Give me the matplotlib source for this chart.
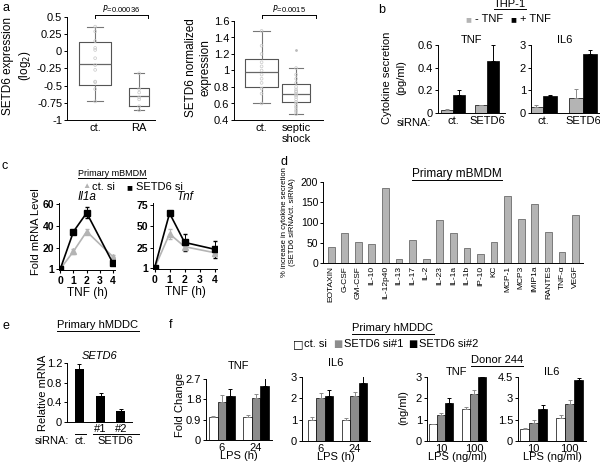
import numpy as np
import matplotlib.pyplot as plt
from matplotlib.lines import Line2D

plt.rcParams['font.family'] = ['Liberation Sans', 'DejaVu Sans']
plt.rcParams['font.size'] = 8
plt.rcParams['axes.linewidth'] = 0.7
plt.rcParams['xtick.major.size'] = 0
plt.rcParams['ytick.major.size'] = 2
plt.rcParams['ytick.major.width'] = 0.7
plt.rcParams['xtick.major.pad'] = 2
plt.rcParams['ytick.major.pad'] = 1.5

W, H = 600, 465
GREY = '#b4b4b4'
MID = '#8a8a8a'

# ---------------- data ----------------
# a (left): RA
ra_groups = ['ct.', 'RA']
ra_whislo = [-0.73, -0.86]
ra_q1 = [-0.49, -0.80]
ra_med = [-0.18, -0.65]
ra_q3 = [0.13, -0.54]
ra_whishi = [0.36, -0.32]
ra_pts_ct = [0.36, 0.29, 0.15, 0.05, 0.02, -0.10, -0.20, -0.27, -0.44, -0.45, -0.55, -0.73]
ra_pts_ra = [-0.32, -0.55, -0.60, -0.67, -0.70, -0.80, -0.86]

# a (right): septic shock
ss_groups = ['ct.', 'septic\nshock']
ss_whislo = [0.60, 0.47]
ss_q1 = [0.80, 0.62]
ss_med = [0.98, 0.72]
ss_q3 = [1.14, 0.84]
ss_whishi = [1.48, 1.03]
ss_outliers = [[], [1.25]]
ss_pts_ct = [1.48, 1.30, 1.20, 1.10, 1.05, 1.00, 0.95, 0.90, 0.85, 0.78, 0.72, 0.60]
ss_pts_ss = [1.03, 0.95, 0.90, 0.85, 0.80, 0.77, 0.75, 0.74, 0.72, 0.70, 0.68, 0.65,
             0.62, 0.60, 0.57, 0.55, 0.52, 0.50, 0.47]

# b: THP-1 cytokine secretion
b_groups = ['ct.', 'SETD6']
tnf_minus = [0.025, 0.07]
tnf_minus_err = [0.006, 0.0]
tnf_plus = [0.16, 0.46]
tnf_plus_err = [0.04, 0.14]
il6_minus = [0.25, 0.68]
il6_minus_err = [0.10, 0.38]
il6_plus = [0.75, 2.60]
il6_plus_err = [0.04, 0.20]

# c: Primary mBMDM time course
c_time = [0, 1, 2, 4]
il1a_ct = [1, 17, 35, 12]
il1a_ct_err = [0, 2, 2, 2]
il1a_setd6 = [1, 35, 52, 6]
il1a_setd6_err = [0, 1, 5, 1]
tnf_ct = [1, 41, 26, 19]
tnf_ct_err = [0, 6, 4, 4]
tnf_setd6 = [1, 65, 31, 23]
tnf_setd6_err = [0, 1, 10, 10]

# d: cytokine array
d_labels = ['EOTAXIN', 'G-CSF', 'GM-CSF', 'IL-10', 'IL-12p40', 'IL-13', 'IL-17', 'IL-2',
            'IL-23', 'IL-1a', 'IL-1b', 'IP-10', 'KC', 'MCP-1', 'MCP3', 'IMIP1a',
            'RANTES', 'TNF-α', 'VEGF']
d_values = [40, 73, 53, 46, 186, 11, 58, 11, 106, 73, 36, 23, 52, 165, 109, 145, 77, 28, 118]

# e: SETD6 knockdown
e_values = [1.07, 0.53, 0.23]
e_err = [0.10, 0.07, 0.03]

# f: hMDDC
f_hours = ['6', '24']
f_doses = ['10', '100']
f_tnf_h = [[1.0, 1.0], [1.7, 1.86], [1.95, 2.39]]
f_tnf_h_err = [[0.08, 0.1], [0.3, 0.17], [0.3, 0.35]]
f_il6_h = [[1.0, 1.0], [2.0, 2.1], [2.1, 2.7]]
f_il6_h_err = [[0.12, 0.1], [0.25, 0.2], [0.3, 0.35]]
f_tnf_d = [[0.8, 1.5], [1.2, 2.2], [1.8, 3.0]]
f_tnf_d_err = [[0.0, 0.08], [0.1, 0.2], [0.2, 0.0]]
f_il6_d = [[0.85, 1.65], [1.25, 2.6], [2.25, 4.3]]
f_il6_d_err = [[0.05, 0.15], [0.2, 0.3], [0.25, 0.15]]
f_colors = ['white', '#8c8c8c', 'black']
f_names = ['ct. si', 'SETD6 si#1', 'SETD6 si#2']

# ---------------- helpers ----------------
fig = plt.figure(figsize=(6, 4.65), dpi=100)
renderer = fig.canvas.get_renderer()


def ax_px(x0, y0, x1, y1):
    ax = fig.add_axes([x0 / W, 1 - y1 / H, (x1 - x0) / W, (y1 - y0) / H])
    ax.spines[['top', 'right']].set_visible(False)
    return ax


def ftext(x, y, s, **kw):
    kw.setdefault('ha', 'center')
    kw.setdefault('va', 'center')
    return fig.text(x / W, 1 - y / H, s, **kw)


def fline(x0, x1, y0, y1=None, lw=0.7):
    if y1 is None:
        y1 = y0
    fig.add_artist(Line2D([x0 / W, x1 / W], [1 - y0 / H, 1 - y1 / H],
                          color='black', lw=lw, transform=fig.transFigure))


def underlined(x, y, s, size=8.5, gap=6):
    t = ftext(x, y, s, fontsize=size)
    half = t.get_window_extent(renderer).width / 2
    fline(x - half, x + half, y + gap)


def box_panel(ax, whislo, q1, med, q3, whishi, widths, pts, fliers):
    stats = []
    for i in range(len(med)):
        stats.append(dict(med=med[i], q1=q1[i], q3=q3[i], whislo=whislo[i],
                          whishi=whishi[i], fliers=fliers[i]))
    ax.bxp(stats, positions=[1, 2], widths=widths, showfliers=True,
           boxprops=dict(color='#555555', lw=0.8),
           medianprops=dict(color='#666666', lw=0.9),
           whiskerprops=dict(color='#777777', lw=0.8),
           capprops=dict(color='#777777', lw=0.8),
           flierprops=dict(marker='.', markersize=2, markerfacecolor='#bbbbbb',
                           markeredgecolor='#bbbbbb'))
    for i, p in enumerate(pts):
        ax.scatter(np.full(len(p), i + 1), p, s=4, facecolor='none',
                   edgecolor='#c8c8c8', lw=0.5, zorder=3)


def grouped_bars(ax, vals, errs, colors, width):
    n = len(vals)
    x = np.arange(len(vals[0]))
    for k in range(n):
        off = (k - (n - 1) / 2) * width
        ax.bar(x + off, vals[k], width, color=colors[k], edgecolor='black', lw=0.5,
               yerr=(np.zeros(len(errs[k])), errs[k]),
               error_kw=dict(ecolor=MID if colors[k] != 'black' else 'black',
                             elinewidth=0.7, capsize=1.5, capthick=0.7))
    return x


# ---------------- panel a ----------------
ftext(6, 8, 'a', fontsize=9)
ax = ax_px(67, 17, 155, 120)
box_panel(ax, ra_whislo, ra_q1, ra_med, ra_q3, ra_whishi, [0.72, 0.45],
          [ra_pts_ct, ra_pts_ra], [[], []])
ax.set_xlim(0.36, 2.36)
ax.set_ylim(-1, 0.5)
ax.set_yticks([-1, -0.75, -0.5, -0.25, 0, 0.25, 0.5])
ax.set_yticklabels(['-1', '-0.75', '-0.5', '-0.25', '0', '0.25', '0.5'], fontsize=8)
ax.set_xticks([1, 2])
ax.set_xticklabels(ra_groups, fontsize=8)
ftext(8, 66, 'SETD6 expression', rotation=90, fontsize=8.5)
ftext(25, 66, '(log$_2$)', rotation=90, fontsize=8.5)
fline(95, 148, 15)
fline(95, 95, 15, 18)
fline(148, 148, 15, 18)
ftext(121, 9, '$P$=0.00036', fontsize=5.5)

ax = ax_px(234, 21, 323, 120)
box_panel(ax, ss_whislo, ss_q1, ss_med, ss_q3, ss_whishi, [0.95, 0.8],
          [ss_pts_ct, ss_pts_ss], ss_outliers)
ax.set_xlim(0.2, 2.78)
ax.set_ylim(0.4, 1.6)
ax.set_yticks([0.4, 0.6, 0.8, 1.0, 1.2, 1.4, 1.6])
ax.set_yticklabels(['0.4', '0.6', '0.8', '1', '1.2', '1.4', '1.6'], fontsize=8)
ax.set_xticks([1, 2])
ax.set_xticklabels(ss_groups, fontsize=8)
ftext(191, 68, 'SETD6 normalized', rotation=90, fontsize=8.5)
ftext(206, 68, 'expression', rotation=90, fontsize=8.5)
fline(262, 316, 15)
fline(262, 262, 15, 18)
fline(316, 316, 15, 18)
ftext(289, 9, '$P$=0.0015', fontsize=5.5)

# ---------------- panel b ----------------
ftext(382, 10, 'b', fontsize=9)
underlined(510, 4, 'THP-1', size=8, gap=5)
ftext(468, 19, '■', color=GREY, fontsize=7)
ftext(475, 19, '- TNF', ha='left', fontsize=8)
ftext(513, 19, '■', color='black', fontsize=7)
ftext(520, 19, '+ TNF', ha='left', fontsize=8)

ax = ax_px(438, 45, 505, 113)
grouped_bars(ax, [tnf_minus, tnf_plus], [tnf_minus_err, tnf_plus_err], [GREY, 'black'], 0.35)
ax.set_xlim(-0.44, 1.53)
ax.set_ylim(0, 0.6)
ax.set_yticks([0, 0.2, 0.4, 0.6])
ax.set_yticklabels(['0', '0.2', '0.4', '0.6'], fontsize=8)
ax.set_xticks([0, 1])
ax.set_xticklabels(b_groups, fontsize=8)
ax.set_title('TNF', fontsize=8, pad=1)
ftext(387, 78, 'Cytokine secretion', rotation=90, fontsize=8)
ftext(401, 78, '(pg/ml)', rotation=90, fontsize=8)
ftext(414, 123, 'siRNA:', fontsize=8)

ax = ax_px(531, 45, 599, 113)
grouped_bars(ax, [il6_minus, il6_plus], [il6_minus_err, il6_plus_err], [GREY, 'black'], 0.35)
ax.set_xlim(-0.3, 1.4)
ax.set_ylim(0, 3)
ax.set_yticks([0, 1, 2, 3])
ax.set_yticklabels(['0', '1', '2', '3'], fontsize=8)
ax.set_xticks([0, 1])
ax.set_xticklabels(b_groups, fontsize=8)
ax.set_title('IL6', fontsize=8, pad=1)

# ---------------- panel c ----------------
ftext(5, 166, 'c', fontsize=9)
underlined(112, 173, 'Primary mBMDM', size=6.5, gap=5)
ftext(86, 187, '▲', color=GREY, fontsize=6)
ftext(92, 187, 'ct. si', ha='left', fontsize=8)
ftext(129, 187, '■', color='black', fontsize=7)
ftext(136, 187, 'SETD6 si', ha='left', fontsize=8)


def time_panel(ax, ct, ct_err, si, si_err):
    ax.errorbar(c_time, ct, yerr=ct_err, color=GREY, marker='^', markersize=4,
                lw=1.2, capsize=1.5, elinewidth=0.7)
    ax.errorbar(c_time, si, yerr=si_err, color='black', marker='s', markersize=4,
                lw=1.2, capsize=1.5, elinewidth=0.7)
    ax.set_xlim(-0.1, 4.15)
    ax.set_xticks([0, 1, 2, 3, 4])
    ax.set_xticklabels(['0', '1', '2', '3', '4'], fontsize=7.5, fontweight='bold')
    ax.tick_params(axis='x', length=2)
    ax.set_xlabel('TNF (h)', fontsize=8.5, labelpad=1)


ax = ax_px(59, 203, 115, 270)
time_panel(ax, il1a_ct, il1a_ct_err, il1a_setd6, il1a_setd6_err)
ax.set_ylim(0, 61)
ax.set_yticks([1, 20, 40, 60])
ax.set_yticklabels(['1', '20', '40', '60'], fontsize=7.5, fontweight='bold')
ax.set_title('Il1a', fontsize=8.5, style='italic', pad=0)
ftext(36, 232, 'Fold mRNA Level', rotation=90, fontsize=8)

ax = ax_px(153, 203, 217, 269)
time_panel(ax, tnf_ct, tnf_ct_err, tnf_setd6, tnf_setd6_err)
ax.set_ylim(0, 77)
ax.set_yticks([1, 25, 50, 75])
ax.set_yticklabels(['1', '25', '50', '75'], fontsize=7.5, fontweight='bold')
ax.set_title('Tnf', fontsize=8.5, style='italic', pad=0)

# ---------------- panel d ----------------
ftext(284, 162, 'd', fontsize=9)
underlined(457, 174, 'Primary mBMDM', size=8.5, gap=6)
ax = ax_px(323, 182, 583, 263)
xd = np.arange(len(d_values))
ax.bar(xd, d_values, 0.5, color=GREY, edgecolor='#555555', lw=0.5)
ax.set_xlim(-0.6, 18.55)
ax.set_ylim(0, 200)
ax.set_yticks([0, 50, 100, 150, 200])
ax.set_yticklabels(['0', '50', '100', '150', '200'], fontsize=7.5)
ax.set_xticks(xd)
ax.set_xticklabels(d_labels, rotation=90, fontsize=6)
ftext(284, 222, '% increase in cytokine secretion', rotation=90, fontsize=5.5)
ftext(293, 222, '(SETD6 siRNA/ct. siRNA)', rotation=90, fontsize=5.5)

# ---------------- panel e ----------------
ftext(6, 326, 'e', fontsize=9)
underlined(98, 325, 'Primary hMDDC', size=8, gap=6)
ax = ax_px(67, 363, 132, 422)
xe = np.array([0, 1.05, 2.05])
ax.bar(xe, e_values, 0.45, color='black',
       yerr=(np.zeros(3), e_err), error_kw=dict(ecolor='black', elinewidth=0.7,
                                                 capsize=1.5, capthick=0.7))
ax.set_xlim(-0.6, 2.6)
ax.set_ylim(0, 1.2)
ax.set_yticks([0, 0.4, 0.8, 1.2])
ax.set_yticklabels(['0', '0.4', '0.8', '1.2'], fontsize=8)
ax.set_xticks([])
ax.set_title('SETD6', fontsize=8, style='italic', pad=3)
ftext(43, 393, 'Relative mRNA', rotation=90, fontsize=8)
ftext(100, 429, '#1', fontsize=8)
ftext(121, 429, '#2', fontsize=8)
fline(93, 139, 434)
fline(75, 86, 434)
ftext(52, 441, 'siRNA:', fontsize=8)
ftext(80, 441, 'ct.', fontsize=8)
ftext(115, 441, 'SETD6', fontsize=8)

# ---------------- panel f ----------------
ftext(171, 325, 'f', fontsize=9)
underlined(393, 328, 'Primary hMDDC', size=8, gap=6)
lx = [298, 338, 413]
for k in range(3):
    ftext(lx[k], 344, '□' if k == 0 else '■', color='black' if k != 1 else '#8c8c8c',
          fontsize=7 if k else 8, family=['DejaVu Sans'])
    ftext(lx[k] + 6, 344, f_names[k], ha='left', fontsize=8)
underlined(497, 360, 'Donor 244', size=8, gap=6)


def f_panel(box, vals, errs, xlim, ylim, ticks, labels, title, cats, pad):
    ax = ax_px(*box)
    grouped_bars(ax, vals, errs, f_colors, 0.25)
    ax.set_xlim(*xlim)
    ax.set_ylim(*ylim)
    ax.set_yticks(ticks)
    ax.set_yticklabels(labels, fontsize=8)
    ax.set_xticks([0, 1])
    ax.set_xticklabels(cats, fontsize=8)
    ax.set_title(title, fontsize=8, pad=pad)
    return ax


ax = f_panel((206, 379, 272, 440), f_tnf_h, f_tnf_h_err, (-0.47, 1.47), (0, 2.7),
             [0, 0.9, 1.8, 2.7], ['0', '0.9', '1.8', '2.7'], 'TNF', f_hours, 7)
ax.set_xlabel('LPS (h)', fontsize=8, labelpad=-1)
ax = f_panel((302, 377, 370, 441), f_il6_h, f_il6_h_err, (-0.55, 1.45), (0, 3),
             [0, 1, 2, 3], ['0', '1', '2', '3'], 'IL6', f_hours, 8)
ax.set_xlabel('LPS (h)', fontsize=8, labelpad=-1)
ftext(180, 405, 'Fold Change', rotation=90, fontsize=8)

ax = f_panel((427, 377, 487, 441), f_tnf_d, f_tnf_d_err, (-0.43, 1.4), (0, 3),
             [0, 1, 2, 3], ['0', '1', '2', '3'], 'TNF', f_doses, 1)
ax.set_xlabel('LPS (ng/ml)', fontsize=8, labelpad=-1)
ax = f_panel((518, 377, 586, 441), f_il6_d, f_il6_d_err, (-0.43, 1.45), (0, 4.5),
             [0, 1.5, 3, 4.5], ['0', '1.5', '3', '4.5'], 'IL6', f_doses, 1)
ax.set_xlabel('LPS (ng/ml)', fontsize=8, labelpad=-1)
ftext(403, 408, '(ng/ml)', rotation=90, fontsize=8)

fig.savefig('out.png', dpi=100)
